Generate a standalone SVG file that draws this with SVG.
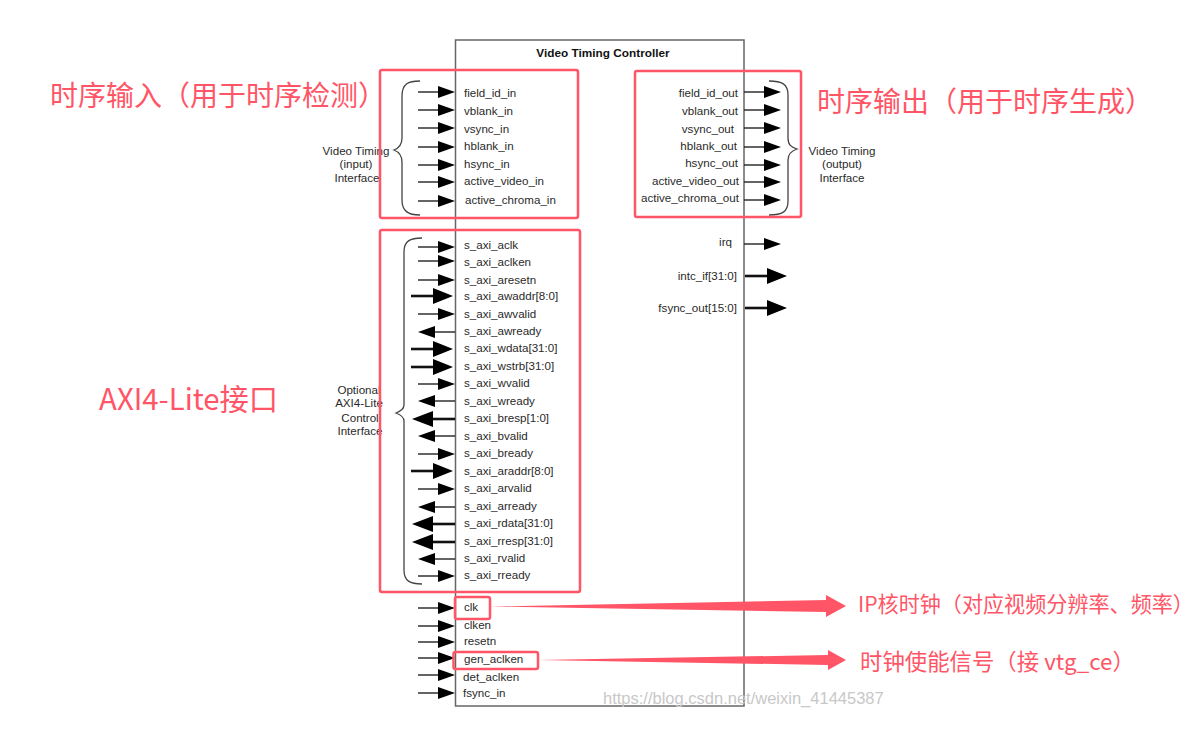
<svg xmlns="http://www.w3.org/2000/svg" width="1196" height="744" viewBox="0 0 1196 744">
<style>
text{font-family:"Liberation Sans",Arial,sans-serif;font-size:11.6px;fill:#2a2a2a}
.e{text-anchor:end}
.m{text-anchor:middle}
.t{font-weight:bold;fill:#111;font-size:11.8px}
.z{font-family:"Noto Sans CJK SC",sans-serif;fill:#ff5566}
.z1{font-size:28px}
.z2{font-size:21.1px}
.b{fill:none;stroke:#ff5566;stroke-width:2.5}
.s{stroke:#222;stroke-width:1.4;fill:none}
.k{stroke:#111;stroke-width:2.6;fill:none}
.h{fill:#000}
.br{fill:none;stroke:#444;stroke-width:1.3}
.r{fill:#ff5566}
.w{font-size:16.5px;fill:#c8c8c8}
</style>
<defs>
<g id="ar"><path class="s" d="M-37 0H-17"/><path class="h" d="M-17-6L0 0L-17 6Z"/></g>
<g id="al"><path class="s" d="M0 0H-20"/><path class="h" d="M-20-6L-37 0L-20 6Z"/></g>
<g id="tr"><path class="k" d="M-42 0H-20"/><path class="h" d="M-20-8L0 0L-20 8Z"/></g>
<g id="tl"><path class="k" d="M0 0H-22"/><path class="h" d="M-22-8L-43 0L-22 8Z"/></g>
</defs>
<g id="block"><rect x="455.500" y="40" width="288.500" height="666" fill="none" stroke="#666" stroke-width="1.500"/><text class="t m" x="603" y="57">Video Timing Controller</text></g>
<g id="connectors">
<use href="#ar" x="455" y="92"/><use href="#ar" x="455" y="110"/><use href="#ar" x="455" y="128"/><use href="#ar" x="455" y="147"/><use href="#ar" x="455" y="165"/><use href="#ar" x="455" y="182"/><use href="#ar" x="455" y="201"/>
<use href="#ar" x="455" y="247"/><use href="#ar" x="455" y="261"/><use href="#ar" x="455" y="280"/><use href="#tr" x="453" y="296"/><use href="#ar" x="455" y="314"/><use href="#al" x="455" y="332"/><use href="#tr" x="453" y="349"/><use href="#tr" x="453" y="367"/><use href="#ar" x="455" y="384"/><use href="#al" x="455" y="401"/><use href="#tl" x="455" y="419"/><use href="#al" x="455" y="436"/><use href="#ar" x="455" y="454"/><use href="#tr" x="453" y="471"/><use href="#ar" x="455" y="489"/><use href="#al" x="455" y="507"/><use href="#tl" x="455" y="524"/><use href="#tl" x="455" y="542"/><use href="#al" x="455" y="559"/><use href="#ar" x="455" y="576"/>
<use href="#ar" x="455" y="608"/><use href="#ar" x="455" y="626"/><use href="#ar" x="455" y="642"/><use href="#ar" x="455" y="658"/><use href="#ar" x="455" y="675"/><use href="#ar" x="455" y="693"/>
<use href="#ar" x="781" y="92"/><use href="#ar" x="781" y="110"/><use href="#ar" x="781" y="128"/><use href="#ar" x="781" y="147"/><use href="#ar" x="781" y="165"/><use href="#ar" x="781" y="182"/><use href="#ar" x="781" y="200"/><use href="#ar" x="781" y="244"/><use href="#tr" x="787" y="276"/><use href="#tr" x="787" y="308"/>
</g>
<g id="braces">
<path class="br" d="M420 81C408 81 402 84 402 96V138C402 145 399 148 394 150C399 152 402 155 402 162V200C402 211 408 215 420 215"/>
<path class="br" d="M769 81C782 81 788 84 788 95V138C788 145 791 147 797 149C791 151 788 154 788 160V201C788 212 782 215 769 215"/>
<path class="br" d="M422 238C410 238 404 241 404 252V405C404 409 401 411 396 413C401 415 404 417 404 421V570C404 581 410 584 422 584"/>
</g>
<g id="inputs-timing">
<text x="464" y="97">field_id_in</text><text x="464" y="115">vblank_in</text><text x="464" y="133">vsync_in</text><text x="464" y="150">hblank_in</text><text x="464" y="168">hsync_in</text><text x="464" y="185">active_video_in</text><text x="465" y="204">active_chroma_in</text>
<text class="m" x="356" y="155">Video Timing</text><text class="m" x="356" y="168">(input)</text><text class="m" x="357" y="182">Interface</text>
</g>
<g id="outputs-timing">
<text class="e" x="738" y="97">field_id_out</text><text class="e" x="738" y="115">vblank_out</text><text class="e" x="734" y="133">vsync_out</text><text class="e" x="737" y="150">hblank_out</text><text class="e" x="738" y="167">hsync_out</text><text class="e" x="739" y="185">active_video_out</text><text class="e" x="739" y="202">active_chroma_out</text>
<text class="m" x="842" y="155">Video Timing</text><text class="m" x="842" y="168">(output)</text><text class="m" x="842" y="182">Interface</text>
</g>
<g id="outputs-misc">
<text class="e" x="732" y="246">irq</text><text class="e" x="737" y="280">intc_if[31:0]</text><text class="e" x="737" y="312">fsync_out[15:0]</text>
</g>
<g id="axi">
<text x="464" y="249">s_axi_aclk</text><text x="464" y="266">s_axi_aclken</text><text x="464" y="284">s_axi_aresetn</text><text x="464" y="300">s_axi_awaddr[8:0]</text><text x="464" y="318">s_axi_awvalid</text><text x="464" y="335">s_axi_awready</text><text x="464" y="352">s_axi_wdata[31:0]</text><text x="464" y="370">s_axi_wstrb[31:0]</text><text x="464" y="387">s_axi_wvalid</text><text x="464" y="405">s_axi_wready</text><text x="464" y="422">s_axi_bresp[1:0]</text><text x="464" y="440">s_axi_bvalid</text><text x="464" y="457">s_axi_bready</text><text x="464" y="475">s_axi_araddr[8:0]</text><text x="464" y="492">s_axi_arvalid</text><text x="464" y="510">s_axi_arready</text><text x="464" y="527">s_axi_rdata[31:0]</text><text x="464" y="545">s_axi_rresp[31:0]</text><text x="464" y="562">s_axi_rvalid</text><text x="464" y="579">s_axi_rready</text>
<text class="m" x="359" y="394">Optional</text><text class="m" x="359" y="407">AXI4-Lite</text><text class="m" x="360" y="422">Control</text><text class="m" x="360" y="435">Interface</text>
</g>
<g id="clocks">
<text x="464" y="611">clk</text><text x="464" y="629">clken</text><text x="464" y="645">resetn</text><text x="464" y="663">gen_aclken</text><text x="463" y="681">det_aclken</text><text x="463" y="697">fsync_in</text>
</g>
<g id="annotations">
<rect class="b" x="380" y="70" width="198" height="148" rx="2"/>
<rect class="b" x="635" y="71" width="166" height="146" rx="2"/>
<rect class="b" x="380" y="230" width="200" height="362" rx="2"/>
<rect class="b" x="455" y="597" width="35" height="22" rx="2"/>
<rect class="b" x="453.500" y="652" width="84.500" height="17" rx="2"/>
<path class="r" d="M490 606.500L826 600V595L846 606L826 617V612Z"/>
<path class="r" d="M538 660L828 655V650L846 660L828 670V665Z"/>
<text class="z z1" x="50" y="106">时序输入（用于时序检测）</text>
<text class="z z1" x="817" y="112">时序输出（用于时序生成）</text>
<text class="z" style="font-size:29.300px" x="99" y="410">AXI4-Lite接口</text>
<text class="z z2" x="858" y="612">IP核时钟（对应视频分辨率、频率）</text>
<text class="z" style="font-size:22.400px" x="860" y="670">时钟使能信号（接 vtg_ce）</text>
</g>
<text class="w" x="603" y="704">https://blog.csdn.net/weixin_41445387</text>
</svg>
